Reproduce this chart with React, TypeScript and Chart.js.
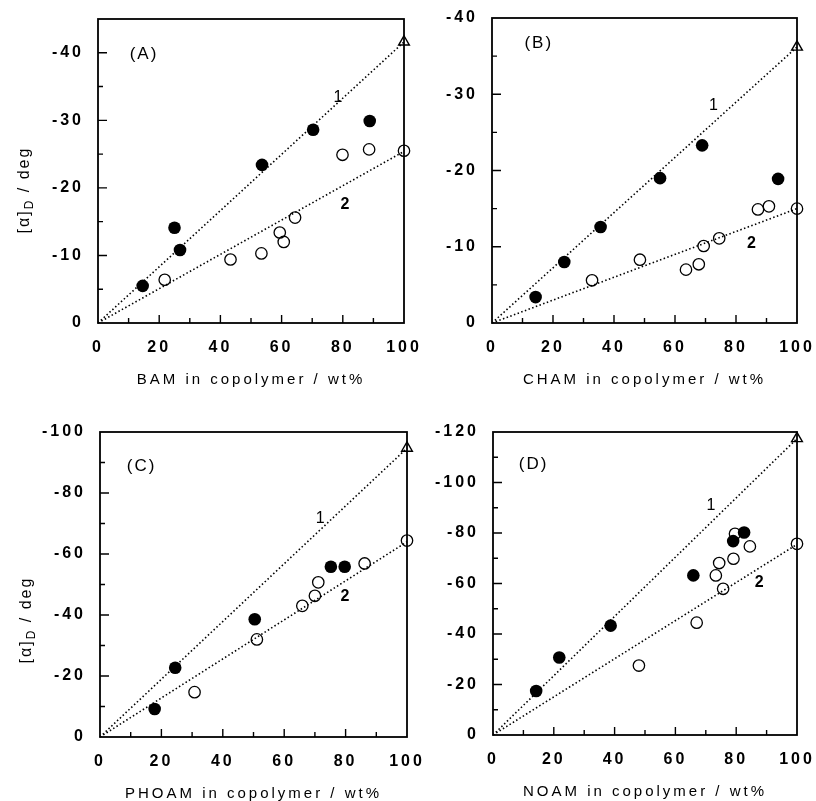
import React, { useEffect, useRef } from "react";
import { Chart, registerables } from "chart.js";
Chart.register(...registerables);

const FONT = "'Liberation Sans', Arial, Helvetica, sans-serif";

// ---- shared ----
const lineX = [0, 100];
const xTickValues = [0, 20, 40, 60, 80, 100];
const xMinorTicks = [10, 30, 50, 70, 90];

// ---- Panel A: BAM ----
const aFilledX = [14.6, 25.0, 26.8, 53.6, 70.3, 88.8];
const aFilledY = [5.5, 14.1, 10.8, 23.4, 28.6, 29.9];
const aOpenX = [21.8, 43.3, 53.4, 59.4, 60.7, 64.4, 79.9, 88.6, 100];
const aOpenY = [6.4, 9.4, 10.3, 13.4, 12.0, 15.6, 24.9, 25.7, 25.5];
const aHomoY = 41.6;
const aLine2Y = 25.4;
const aYTicks = [0, 10, 20, 30, 40];
const aYMinor = [5, 15, 25, 35];

// ---- Panel B: CHAM ----
const bFilledX = [14.3, 23.7, 35.6, 55.1, 68.9, 93.8];
const bFilledY = [3.4, 8.0, 12.6, 19.0, 23.3, 18.9];
const bOpenX = [32.8, 48.5, 63.6, 67.8, 69.4, 74.5, 87.2, 90.8, 100];
const bOpenY = [5.6, 8.3, 7.0, 7.7, 10.1, 11.1, 14.9, 15.3, 15.0];
const bHomoY = 36.2;
const bLine2Y = 15.0;
const bYTicks = [0, 10, 20, 30, 40];
const bYMinor = [5, 15, 25, 35];

// ---- Panel C: PHOAM ----
const cFilledX = [17.8, 24.5, 50.4, 75.2, 79.7];
const cFilledY = [9.2, 22.7, 38.6, 55.8, 55.8];
const cOpenX = [30.8, 51.1, 65.9, 70.0, 71.1, 86.2, 100];
const cOpenY = [14.7, 32.0, 43.0, 46.3, 50.7, 56.9, 64.4];
const cHomoY = 94.7;
const cLine2Y = 64.0;
const cYTicks = [0, 20, 40, 60, 80, 100];
const cYMinor = [10, 30, 50, 70, 90];

// ---- Panel D: NOAM ----
const dFilledX = [14.2, 21.8, 38.7, 65.9, 79.0, 82.6];
const dFilledY = [17.4, 30.7, 43.3, 63.2, 76.8, 80.2];
const dOpenX = [48.0, 67.0, 73.3, 74.4, 75.7, 79.1, 79.6, 84.5, 100];
const dOpenY = [27.5, 44.5, 63.2, 68.1, 57.9, 69.8, 79.7, 74.7, 75.7];
const dHomoY = 117.4;
const dLine2Y = 75.5;
const dYTicks = [0, 20, 40, 60, 80, 100, 120];
const dYMinor = [10, 30, 50, 70, 90, 110];

type Box = { left: number; top: number; right: number; bottom: number };

type PanelDef = {
  filledX: number[]; filledY: number[]; openX: number[]; openY: number[];
  homoY: number; line2Y: number; yMax: number; yTicks: number[]; yMinor: number[];
  xTitle: string; tag: string; tagPos: number[]; l1Pos: number[]; l2Pos: number[];
  area: Box; yTitleY: number | null; yTitleX: number;
};

const panels: PanelDef[] = [
  {
    filledX: aFilledX, filledY: aFilledY, openX: aOpenX, openY: aOpenY,
    homoY: aHomoY, line2Y: aLine2Y, yMax: 45, yTicks: aYTicks, yMinor: aYMinor,
    xTitle: "BAM in copolymer / wt%", tag: "(A)", tagPos: [14.7, 39.8],
    l1Pos: [78.4, 33.4], l2Pos: [80.7, 17.5],
    area: { left: 98, top: 19, right: 404, bottom: 323 }, yTitleY: 190, yTitleX: 25,
  },
  {
    filledX: bFilledX, filledY: bFilledY, openX: bOpenX, openY: bOpenY,
    homoY: bHomoY, line2Y: bLine2Y, yMax: 40, yTicks: bYTicks, yMinor: bYMinor,
    xTitle: "CHAM in copolymer / wt%", tag: "(B)", tagPos: [15.0, 36.7],
    l1Pos: [72.6, 28.5], l2Pos: [85.1, 10.4],
    area: { left: 492, top: 18, right: 797, bottom: 323 }, yTitleY: null, yTitleX: 0,
  },
  {
    filledX: cFilledX, filledY: cFilledY, openX: cOpenX, openY: cOpenY,
    homoY: cHomoY, line2Y: cLine2Y, yMax: 100, yTicks: cYTicks, yMinor: cYMinor,
    xTitle: "PHOAM in copolymer / wt%", tag: "(C)", tagPos: [13.2, 88.9],
    l1Pos: [71.7, 71.7], l2Pos: [79.8, 46.0],
    area: { left: 100, top: 432, right: 407, bottom: 737 }, yTitleY: 620, yTitleX: 27,
  },
  {
    filledX: dFilledX, filledY: dFilledY, openX: dOpenX, openY: dOpenY,
    homoY: dHomoY, line2Y: dLine2Y, yMax: 120, yTicks: dYTicks, yMinor: dYMinor,
    xTitle: "NOAM in copolymer / wt%", tag: "(D)", tagPos: [13.0, 107.3],
    l1Pos: [71.7, 90.7], l2Pos: [87.6, 60.3],
    area: { left: 493, top: 432, right: 797, bottom: 735 }, yTitleY: null, yTitleX: 0,
  },
];

const W = 816;
const H = 801;
const Y_AXIS_W = 90;
const X_AXIS_H = 62;

const framePlugin = {
  id: "frame",
  beforeDraw(chart: any) {
    (chart.ctx as any).letterSpacing = "3px";
  },
  beforeDatasetsDraw(chart: any, _args: any, opts: any) {
    const { ctx, chartArea: a, scales } = chart;
    const x = scales.x, y = scales.y;
    ctx.save();
    ctx.strokeStyle = "#000";
    ctx.lineWidth = 1.8;
    ctx.strokeRect(a.left, a.top, a.right - a.left, a.bottom - a.top);
    ctx.lineWidth = 1.4;
    ctx.beginPath();
    for (const v of xTickValues) {
      if (v === 0 || v === 100) continue;
      const px = x.getPixelForValue(v);
      ctx.moveTo(px, a.bottom); ctx.lineTo(px, a.bottom - 8);
    }
    for (const v of xMinorTicks) {
      const px = x.getPixelForValue(v);
      ctx.moveTo(px, a.bottom); ctx.lineTo(px, a.bottom - 5);
    }
    for (const v of opts.yTicks) {
      if (v === 0 || v === opts.yMax) continue;
      const py = y.getPixelForValue(v);
      ctx.moveTo(a.left, py); ctx.lineTo(a.left + 9, py);
    }
    for (const v of opts.yMinor) {
      const py = y.getPixelForValue(v);
      ctx.moveTo(a.left, py); ctx.lineTo(a.left + 5, py);
    }
    ctx.stroke();
    ctx.restore();
  },
  afterDatasetsDraw(chart: any, _args: any, opts: any) {
    const { ctx, scales } = chart;
    const x = scales.x, y = scales.y;
    ctx.save();
    ctx.fillStyle = "#000";
    ctx.textAlign = "center";
    ctx.textBaseline = "middle";
    (ctx as any).letterSpacing = "2px";
    ctx.font = `17px ${FONT}`;
    ctx.fillText(opts.tag, x.getPixelForValue(opts.tagPos[0]) + 1, y.getPixelForValue(opts.tagPos[1]));
    ctx.font = `16px ${FONT}`;
    (ctx as any).letterSpacing = "0px";
    ctx.fillText("1", x.getPixelForValue(opts.l1Pos[0]), y.getPixelForValue(opts.l1Pos[1]));
    ctx.font = `bold 16px ${FONT}`;
    ctx.fillText("2", x.getPixelForValue(opts.l2Pos[0]), y.getPixelForValue(opts.l2Pos[1]));
    if (opts.yTitleY != null) {
      (ctx as any).letterSpacing = "2px";
      ctx.translate(opts.yTitleX, opts.yTitleY);
      ctx.rotate(-Math.PI / 2);
      ctx.textAlign = "left";
      ctx.textBaseline = "middle";
      const big = `16px ${FONT}`;
      const small = `12px ${FONT}`;
      ctx.font = big;
      const w1 = ctx.measureText("[\u03b1]").width;
      const w3 = ctx.measureText(" / deg").width;
      ctx.font = small;
      const w2 = ctx.measureText("D").width;
      const total = w1 + w2 + w3;
      let cx = -total / 2;
      ctx.font = big;
      ctx.fillText("[\u03b1]", cx, 0);
      cx += w1;
      ctx.font = small;
      ctx.fillText("D", cx, 5);
      cx += w2;
      ctx.font = big;
      ctx.fillText(" / deg", cx, 0);
    }
    ctx.restore();
  },
};

function makeConfig(p: PanelDef): any {
  const pts = (xs: number[], ys: number[]) => xs.map((v, i) => ({ x: v, y: ys[i] }));
  const dotted = {
    showLine: true,
    borderColor: "#000",
    borderWidth: 1.6,
    borderDash: [1.5, 2.4],
    pointRadius: 0,
    fill: false,
    clip: false,
  };
  return {
    type: "scatter",
    data: {
      datasets: [
        { ...dotted, data: pts(lineX, [0, p.homoY]) },
        { ...dotted, data: pts(lineX, [0, p.line2Y]) },
        {
          data: pts(p.filledX, p.filledY), pointRadius: 6.3, pointBackgroundColor: "#000",
          pointBorderColor: "#000", pointBorderWidth: 0, showLine: false, clip: false,
        },
        {
          data: pts(p.openX, p.openY), pointRadius: 5.7, pointBackgroundColor: "rgba(0,0,0,0)",
          pointBorderColor: "#000", pointBorderWidth: 1.3, showLine: false, clip: false,
        },
        {
          data: pts([100], [p.homoY]), pointStyle: "triangle", pointRadius: 6.2,
          pointBackgroundColor: "rgba(0,0,0,0)", pointBorderColor: "#000", pointBorderWidth: 1.4,
          showLine: false, clip: false,
        },
      ],
    },
    options: {
      responsive: false,
      animation: false,
      devicePixelRatio: 1,
      events: [],
      layout: {
        padding: {
          left: p.area.left - Y_AXIS_W,
          top: p.area.top,
          right: W - p.area.right,
          bottom: H - p.area.bottom - X_AXIS_H,
        },
      },
      plugins: {
        legend: { display: false },
        tooltip: { enabled: false },
        frame: {
          tag: p.tag, tagPos: p.tagPos, l1Pos: p.l1Pos, l2Pos: p.l2Pos,
          yTicks: p.yTicks, yMinor: p.yMinor, yMax: p.yMax,
          yTitleY: p.yTitleY, yTitleX: p.yTitleX,
        },
      },
      scales: {
        x: {
          type: "linear",
          min: 0,
          max: 100,
          afterBuildTicks: (s: any) => { s.ticks = xTickValues.map((v) => ({ value: v })); },
          afterFit: (s: any) => { s.height = X_AXIS_H; s.paddingLeft = 0; s.paddingRight = 0; },
          grid: { display: false, drawTicks: false, tickLength: 0 },
          border: { display: false },
          ticks: {
            color: "#000", padding: 15, maxRotation: 0, autoSkip: false,
            font: { family: FONT, size: 16, weight: "bold" },
            callback: (v: any) => String(v),
          },
          title: {
            display: true, text: p.xTitle, color: "#000",
            font: { family: FONT, size: 15 },
            padding: { top: 0, bottom: -4 },
          },
        },
        y: {
          type: "linear",
          min: 0,
          max: p.yMax,
          afterBuildTicks: (s: any) => { s.ticks = p.yTicks.map((v) => ({ value: v })); },
          afterFit: (s: any) => { s.width = Y_AXIS_W; s.paddingTop = 0; s.paddingBottom = 0; },
          grid: { display: false, drawTicks: false, tickLength: 0 },
          border: { display: false },
          ticks: {
            color: "#000", padding: 14, autoSkip: false,
            font: { family: FONT, size: 16, weight: "bold" },
            callback: (v: any) => (v === 0 ? "0" : "-" + v),
          },
        },
      },
    },
    plugins: [framePlugin],
  };
}

function Panel({ def }: { def: PanelDef }) {
  const ref = useRef<HTMLCanvasElement | null>(null);
  useEffect(() => {
    if (!ref.current) return;
    const chart = new Chart(ref.current, makeConfig(def));
    return () => chart.destroy();
  }, [def]);
  return (
    <canvas
      ref={ref}
      width={W}
      height={H}
      style={{ position: "absolute", left: 0, top: 0, width: W, height: H }}
    />
  );
}

export default function App() {
  return (
    <div style={{ position: "absolute", left: 0, top: 0, width: W, height: H, background: "#fff" }}>
      {panels.map((p, i) => (
        <Panel key={i} def={p} />
      ))}
    </div>
  );
}
